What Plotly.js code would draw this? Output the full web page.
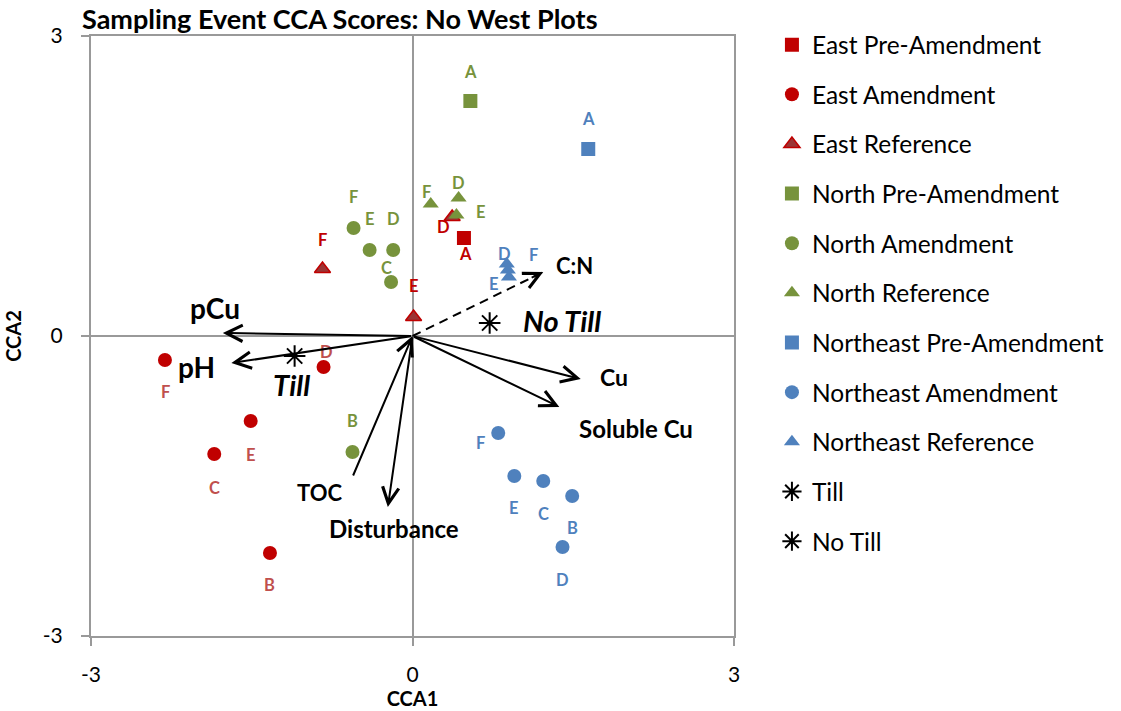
<!DOCTYPE html>
<html>
<head>
<meta charset="utf-8">
<script src="https://cdn.plot.ly/plotly-3.0.1.min.js"></script>
<style>html,body{margin:0;padding:0;background:#fff;}#chart{width:1121px;height:711px;}</style>
</head>
<body>
<div id="chart"></div>
<script>
// ---- Data ----
const eastPreX = [0.48];
const eastPreY = [0.98];
const eastPreLab = ['A'];

const eastAmendX = [-2.31, -0.83, -1.51, -1.85, -1.33];
const eastAmendY = [-0.24, -0.31, -0.85, -1.18, -2.17];
const eastAmendLab = ['F', 'D', 'E', 'C', 'B'];

const eastRefX = [-0.84, 0.01, 0.37];
const eastRefY = [0.67, 0.19, 1.19];
const eastRefLab = ['F', 'E', 'D'];

const northPreX = [0.54];
const northPreY = [2.35];
const northPreLab = ['A'];

const northAmendX = [-0.55, -0.40, -0.18, -0.20, -0.56];
const northAmendY = [1.08, 0.86, 0.86, 0.54, -1.16];
const northAmendLab = ['F', 'E', 'D', 'C', 'B'];

const northRefX = [0.17, 0.43, 0.41];
const northRefY = [1.32, 1.38, 1.21];
const northRefLab = ['F', 'D', 'E'];

const nePreX = [1.64];
const nePreY = [1.87];
const nePreLab = ['A'];

const neAmendX = [0.80, 0.95, 1.22, 1.49, 1.40];
const neAmendY = [-0.97, -1.40, -1.45, -1.60, -2.11];
const neAmendLab = ['F', 'E', 'C', 'B', 'D'];

const neRefX = [0.88, 0.89, 0.90];
const neRefY = [0.72, 0.66, 0.59];
const neRefLab = ['D', 'F', 'E'];

const tillX = [-1.10], tillY = [-0.20];
const noTillX = [0.72], noTillY = [0.13];

// environmental vectors
const envNames = ['pCu', 'pH', 'TOC', 'Disturbance', 'Cu', 'Soluble Cu', 'C:N'];
const envX = [-1.77, -1.69, -0.56, -0.23, 1.57, 1.37, 1.22];
const envY = [0.03, -0.27, -1.41, -1.71, -0.43, -0.71, 0.64];

// ---- Styles ----
const FONT = 'Lato, "Open Sans", sans-serif';
const RED = '#C00000', RED_LAB = '#C0504D', GREEN = '#77933C', BLUE = '#4F81BD';

// label pixel offsets [dx, dy(screen, down +)]
const offs = {
  eastPre: [[2, 16]],
  eastAmend: [[1, 32], [3, -15], [0, 34], [0, 34], [0, 32]],
  eastRef: [[0, -29], [0, -31], [-9, 10]],
  northPre: [[0, -29]],
  northAmend: [[0, -31], [0, -31], [0, -31], [-5, -14], [0, -31]],
  northRef: [[-4, -12], [0, -15], [25, -3]],
  nePre: [[0, -30]],
  neAmend: [[-18, 10], [0, 32], [0, 33], [0, 32], [0, 33]],
  neRef: [[-2, -10], [26, -15], [-15, 7]]
};
const envStyle = {
  'pCu': {dx: -8, dy: -25, size: 28, reverse: false, dash: false},
  'pH': {dx: -35, dy: 4, size: 28, reverse: false, dash: false},
  'TOC': {dx: -33, dy: 15, size: 22, reverse: true, dash: false},
  'Disturbance': {dx: 6, dy: 21, size: 24, reverse: false, dash: false},
  'Cu': {dx: 33, dy: -2, size: 23, reverse: false, dash: false},
  'Soluble Cu': {dx: 77, dy: 21, size: 24, reverse: false, dash: false},
  'C:N': {dx: 31, dy: -7, size: 22, reverse: false, dash: true}
};

const traces = [];
const annotations = [];

function addSeries(name, xs, ys, labs, symbol, color, lineColor, labColor, off) {
  traces.push({
    type: 'scatter', mode: 'markers', name: name, x: xs, y: ys,
    legendgroup: name,
    marker: {symbol: symbol, size: 14, color: color,
             line: {color: lineColor, width: lineColor === color ? 0 : 1.5}},
    hoverinfo: 'x+y+name'
  });
  labs.forEach((l, i) => {
    annotations.push({
      x: xs[i], y: ys[i], xref: 'x', yref: 'y', text: '<b>' + l + '</b>', showarrow: false,
      xshift: off[i][0], yshift: -off[i][1],
      font: {family: FONT, size: 16.5, color: labColor}
    });
  });
}

addSeries('East Pre-Amendment', eastPreX, eastPreY, eastPreLab, 'square', RED, RED, RED, offs.eastPre);
addSeries('East Amendment', eastAmendX, eastAmendY, eastAmendLab, 'circle', RED, RED, RED_LAB, offs.eastAmend);
addSeries('East Reference', eastRefX, eastRefY, eastRefLab, 'triangle-up', '#9B3535', RED, RED, offs.eastRef);
addSeries('North Pre-Amendment', northPreX, northPreY, northPreLab, 'square', GREEN, GREEN, GREEN, offs.northPre);
addSeries('North Amendment', northAmendX, northAmendY, northAmendLab, 'circle', GREEN, GREEN, GREEN, offs.northAmend);
addSeries('North Reference', northRefX, northRefY, northRefLab, 'triangle-up', GREEN, GREEN, GREEN, offs.northRef);
addSeries('Northeast Pre-Amendment', nePreX, nePreY, nePreLab, 'square', BLUE, BLUE, BLUE, offs.nePre);
addSeries('Northeast Amendment', neAmendX, neAmendY, neAmendLab, 'circle', BLUE, BLUE, BLUE, offs.neAmend);
addSeries('Northeast Reference', neRefX, neRefY, neRefLab, 'triangle-up', BLUE, BLUE, BLUE, offs.neRef);

traces.push({type: 'scatter', mode: 'markers', name: 'Till', legendgroup: 'Till', x: tillX, y: tillY,
  marker: {symbol: 'asterisk-open', size: 18, color: '#000', line: {color: '#000', width: 2}}});
traces.push({type: 'scatter', mode: 'markers', name: 'No Till', legendgroup: 'No Till', x: noTillX, y: noTillY,
  marker: {symbol: 'asterisk-open', size: 18, color: '#000', line: {color: '#000', width: 2}}});

annotations.push({x: tillX[0], y: tillY[0], xref: 'x', yref: 'y', showarrow: false,
  text: '<b><i>Till</i></b>', xshift: -3, yshift: -28, font: {family: FONT, size: 29, color: '#000'}});
annotations.push({x: noTillX[0], y: noTillY[0], xref: 'x', yref: 'y', showarrow: false,
  text: '<b><i>No Till</i></b>', xshift: 72, yshift: 3, font: {family: FONT, size: 29, color: '#000'}});

// environmental arrows
envNames.forEach((n, i) => {
  const st = envStyle[n];
  if (st.dash) {
    traces.push({type: 'scatter', mode: 'lines', x: [0, envX[i]], y: [0, envY[i]], showlegend: false,
      hoverinfo: 'skip', line: {color: '#000', width: 2, dash: '9px,6px'}});
    annotations.push({x: envX[i], y: envY[i], ax: envX[i] * 0.9, ay: envY[i] * 0.9, xref: 'x', yref: 'y',
      axref: 'x', ayref: 'y', text: '', showarrow: true, arrowhead: 5, arrowsize: 1.6, arrowwidth: 2,
      arrowcolor: '#000', standoff: 0, startstandoff: 0});
  } else if (st.reverse) {
    annotations.push({x: 0, y: 0, ax: envX[i], ay: envY[i], xref: 'x', yref: 'y',
      axref: 'x', ayref: 'y', text: '', showarrow: true, arrowhead: 5, arrowsize: 1.6, arrowwidth: 2,
      arrowcolor: '#000', standoff: 0});
  } else {
    annotations.push({x: envX[i], y: envY[i], ax: 0, ay: 0, xref: 'x', yref: 'y',
      axref: 'x', ayref: 'y', text: '', showarrow: true, arrowhead: 5, arrowsize: 1.6, arrowwidth: 2,
      arrowcolor: '#000', standoff: 0});
  }
  annotations.push({x: envX[i], y: envY[i], xref: 'x', yref: 'y', showarrow: false,
    text: '<b>' + n + '</b>', xshift: st.dx, yshift: -st.dy, font: {family: FONT, size: st.size, color: '#000'}});
});

const axisCommon = {
  range: [-3, 3], tickvals: [-3, 0, 3], ticktext: ['-3', '0', '3'],
  ticks: 'outside', ticklen: 8, tickwidth: 2, tickcolor: '#999',
  showgrid: false, zeroline: true, zerolinecolor: '#999', zerolinewidth: 2,
  showline: true, mirror: true, linecolor: '#999', linewidth: 2,
  tickfont: {family: FONT, size: 21, color: '#000'}, fixedrange: true
};

const layout = {
  width: 1121, height: 711,
  margin: {l: 91, r: 387, t: 36, b: 75, pad: 0},
  paper_bgcolor: '#fff', plot_bgcolor: '#fff',
  font: {family: FONT, color: '#000'},
  title: {text: '<b>Sampling Event CCA Scores: No West Plots</b>', font: {family: FONT, size: 27, color: '#000'},
    x: 82 / 1121, xanchor: 'left', xref: 'container', y: 1 - 20 / 711, yanchor: 'middle', yref: 'container'},
  xaxis: Object.assign({}, axisCommon, {title: {text: '<b>CCA1</b>', font: {family: FONT, size: 20, color: '#000'}, standoff: 3},
    ticklabelstandoff: 11}),
  yaxis: Object.assign({}, axisCommon, {title: {text: '<b>CCA2</b>', font: {family: FONT, size: 20, color: '#000'}, standoff: 16},
    ticklabelstandoff: 14}),
  showlegend: true,
  legend: {x: 1.059, y: 1.023, xanchor: 'left', yanchor: 'top', traceorder: 'grouped', tracegroupgap: 14.8,
    maxheight: 711,
    font: {family: FONT, size: 24.5, color: '#000'}, bgcolor: 'rgba(0,0,0,0)'},
  annotations: annotations,
  hovermode: 'closest'
};

Plotly.newPlot('chart', traces, layout, {displayModeBar: false, staticPlot: true});
</script>
</body>
</html>
